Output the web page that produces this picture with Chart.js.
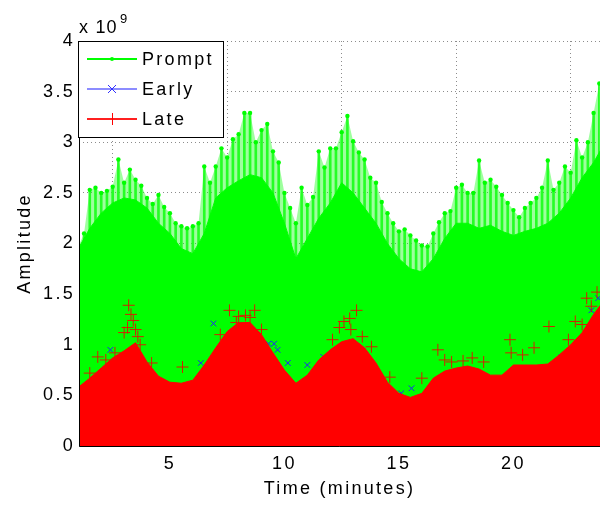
<!DOCTYPE html>
<html>
<head>
<meta charset="utf-8">
<script src="https://cdn.jsdelivr.net/npm/chart.js@4.4.0/dist/chart.umd.min.js"></script>
<style>
  html, body { margin: 0; padding: 0; background: #fff; }
</style>
</head>
<body>
<canvas id="chart" width="600" height="505"></canvas>
<script>
// amplitudes are in units of 1e9 (axis shows "x 10^9")
const bodyMinutes = [1.0, 1.5, 2.0, 2.5, 3.0, 3.5, 4.0, 4.5, 5.0, 5.5, 6.0, 6.5, 7.0, 7.5, 8.0, 8.5,
  9.0, 9.5, 10.0, 10.5, 11.0, 11.5, 12.0, 12.5, 13.0, 13.5, 14.0, 14.5, 15.0, 15.5, 16.0, 16.5,
  17.0, 17.5, 18.0, 18.5, 19.0, 19.5, 20.0, 20.5, 21.0, 21.5, 22.0, 22.5, 23.0, 23.5, 24.0];

// solid part of the Prompt trace
const promptBody = [1.95, 2.15, 2.3, 2.4, 2.45, 2.43, 2.35, 2.2, 2.1, 1.95, 1.9, 2.1, 2.45, 2.55, 2.62, 2.68,
  2.65, 2.5, 2.2, 1.85, 2.05, 2.25, 2.4, 2.6, 2.5, 2.35, 2.2, 2.0, 1.85, 1.75, 1.72, 1.85,
  2.05, 2.2, 2.2, 2.15, 2.18, 2.12, 2.08, 2.12, 2.15, 2.2, 2.3, 2.45, 2.65, 2.8, 3.0];

// upper edge of the Late trace
const lateTop = [0.58, 0.67, 0.77, 0.87, 0.94, 1.02, 0.83, 0.69, 0.63, 0.62, 0.65, 0.8, 0.97, 1.13, 1.22, 1.22,
  1.1, 0.92, 0.75, 0.62, 0.7, 0.85, 0.95, 1.03, 1.06, 0.97, 0.82, 0.63, 0.52, 0.48, 0.52, 0.67,
  0.74, 0.77, 0.79, 0.76, 0.7, 0.7, 0.8, 0.8, 0.8, 0.81, 0.9, 1.0, 1.12, 1.3, 1.45];

// Prompt spikes (peak values)
const spikeMinutes = [1.0, 1.25, 1.5, 1.75, 2.0, 2.25, 2.5, 2.75, 3.0, 3.25, 3.5, 3.75, 4.0, 4.25, 4.5, 4.75,
  5.0, 5.25, 5.5, 5.75, 6.0, 6.25, 6.5, 6.75, 7.0, 7.25, 7.5, 7.75, 8.0, 8.25, 8.5, 8.75,
  9.0, 9.25, 9.5, 9.75, 10.0, 10.25, 10.5, 10.75, 11.0, 11.25, 11.5, 11.75, 12.0, 12.25, 12.5, 12.75,
  13.0, 13.25, 13.5, 13.75, 14.0, 14.25, 14.5, 14.75, 15.0, 15.25, 15.5, 15.75, 16.0, 16.25, 16.5, 16.75,
  17.0, 17.25, 17.5, 17.75, 18.0, 18.25, 18.5, 18.75, 19.0, 19.25, 19.5, 19.75, 20.0, 20.25, 20.5, 20.75,
  21.0, 21.25, 21.5, 21.75, 22.0, 22.25, 22.5, 22.75, 23.0, 23.25, 23.5, 23.75];
const promptPeaks = [1.97, 2.1, 2.53, 2.55, 2.5, 2.52, 2.56, 2.83, 2.6, 2.73, 2.63, 2.57, 2.45, 2.39, 2.48, 2.36,
  2.3, 2.2, 2.17, 2.15, 2.17, 2.2, 2.76, 2.6, 2.76, 2.94, 2.85, 3.03, 3.08, 3.29, 3.29, 3.0,
  3.12, 3.18, 2.91, 2.8, 2.5, 2.35, 2.2, 2.55, 2.38, 2.46, 2.91, 2.75, 2.94, 2.94, 3.1, 3.26,
  3.01, 2.9, 2.83, 2.65, 2.6, 2.41, 2.3, 2.2, 2.12, 2.14, 2.08, 2.03, 1.98, 1.97, 2.1, 2.21,
  2.3, 2.32, 2.55, 2.58, 2.5, 2.5, 2.82, 2.6, 2.63, 2.56, 2.48, 2.4, 2.33, 2.26, 2.35, 2.4,
  2.45, 2.55, 2.82, 2.53, 2.6, 2.76, 2.7, 3.02, 2.85, 3.0, 3.29, 3.58];

// Late markers sticking out above the red mass
const lateMarkMinutes = [1.5, 1.85, 2.2, 2.6, 3.0, 3.15, 3.2, 3.3, 3.4, 3.5, 3.6, 3.7, 4.2, 5.55,
  7.2, 7.6, 7.9, 8.0, 8.3, 8.5, 8.7, 9.0, 12.1, 12.4, 12.6, 12.85, 12.9, 13.15, 13.4, 13.8,
  14.6, 16.0, 16.7, 17.0, 17.3, 17.8, 18.2, 18.7, 19.85, 19.9, 20.4, 20.9, 21.55,
  22.4, 22.7, 23.0, 23.2, 23.4, 23.65];
const lateMarkValues = [0.72, 0.88, 0.85, 0.92, 1.12, 1.17, 1.39, 1.3, 1.24, 1.15, 1.08, 1.0, 0.82, 0.78,
  1.1, 1.34, 1.22, 1.28, 1.29, 1.27, 1.34, 1.15, 1.05, 1.17, 1.23, 1.26, 1.15, 1.34, 1.08, 0.98,
  0.68, 0.67, 0.95, 0.85, 0.83, 0.84, 0.87, 0.83, 1.05, 0.92, 0.9, 0.97, 1.18,
  1.05, 1.23, 1.2, 1.46, 1.38, 1.52];

// Early markers visible at the edge
const earlyMinutes = [1.0, 2.4, 6.35, 6.9, 9.3, 9.55, 9.7, 10.15, 10.3, 11.0, 11.7, 15.1, 15.55, 22.1, 23.4, 23.7];
const earlyValues = [0.55, 0.95, 0.82, 1.21, 1.01, 1.01, 0.95, 0.82, 0.6, 0.8, 0.88, 0.52, 0.57, 0.88, 1.34, 1.46];

const xTicks = [5, 10, 15, 20];
const yTicks = [0, 0.5, 1, 1.5, 2, 2.5, 3, 3.5, 4];

const FONT = "'Liberation Sans', Arial, sans-serif";
const SPACING = '2.3px';

const pts = (xs, ys) => xs.map((x, i) => ({ x: x, y: ys[i] }));

const legendItems = [
  { label: 'Prompt', color: '#00ff00', line: '#00ff00', marker: 'dot' },
  { label: 'Early', color: '#3030ff', line: '#8c8cff', marker: 'x' },
  { label: 'Late', color: '#ff0000', line: '#ff2020', marker: '+' }
];

const matlabDecor = {
  id: 'matlabDecor',
  beforeUpdate(chart) { chart.ctx.letterSpacing = SPACING; },
  beforeDraw(chart) { chart.ctx.letterSpacing = SPACING; },
  afterDatasetsDraw(chart) {
    const ctx = chart.ctx;
    const a = chart.chartArea;
    ctx.save();
    ctx.setLineDash([]);
    // axes on top of data
    ctx.strokeStyle = '#000';
    ctx.lineWidth = 1;
    ctx.beginPath();
    ctx.moveTo(a.left + 0.5, a.top);
    ctx.lineTo(a.left + 0.5, a.bottom + 0.5);
    ctx.lineTo(a.right, a.bottom + 0.5);
    ctx.stroke();

    // exponent label
    ctx.fillStyle = '#000';
    ctx.textBaseline = 'alphabetic';
    ctx.textAlign = 'left';
    ctx.letterSpacing = '1.2px';
    ctx.font = '18px ' + FONT;
    ctx.fillText('x 10', 79, 33);
    ctx.font = '13px ' + FONT;
    ctx.fillText('9', 120, 23);
    ctx.letterSpacing = SPACING;

    // legend box
    const bx = 78.5, by = 41.5, bw = 145, bh = 96;
    ctx.fillStyle = '#fff';
    ctx.fillRect(bx, by, bw, bh);
    ctx.strokeStyle = '#000';
    ctx.strokeRect(bx, by, bw, bh);
    legendItems.forEach((it, i) => {
      const y = 59 + i * 30;
      ctx.strokeStyle = it.line;
      ctx.lineWidth = 2;
      ctx.beginPath();
      ctx.moveTo(87, y);
      ctx.lineTo(137, y);
      ctx.stroke();
      ctx.lineWidth = 1;
      ctx.strokeStyle = it.color;
      ctx.fillStyle = it.color;
      ctx.beginPath();
      if (it.marker === 'dot') {
        ctx.arc(112, y, 2, 0, Math.PI * 2);
        ctx.fill();
      } else if (it.marker === 'x') {
        ctx.moveTo(108, y - 4); ctx.lineTo(116, y + 4);
        ctx.moveTo(116, y - 4); ctx.lineTo(108, y + 4);
        ctx.stroke();
      } else {
        ctx.moveTo(112.5, y - 6); ctx.lineTo(112.5, y + 6);
        ctx.stroke();
      }
      ctx.fillStyle = '#000';
      ctx.font = '18px ' + FONT;
      ctx.textBaseline = 'middle';
      ctx.fillText(it.label, 142, y + 1);
    });
    ctx.restore();
  }
};

new Chart(document.getElementById('chart'), {
  type: 'line',
  data: {
    datasets: [
      {
        label: 'Late',
        data: pts(lateMarkMinutes, lateMarkValues),
        showLine: false,
        pointStyle: 'cross',
        pointRadius: 6,
        pointBorderWidth: 1,
        pointBorderColor: '#d42000',
        order: 0
      },
      {
        label: 'Late fill',
        data: pts(bodyMinutes, lateTop),
        borderColor: '#ff0000',
        backgroundColor: '#ff0000',
        borderWidth: 1,
        fill: 'origin',
        pointRadius: 0,
        tension: 0,
        order: 1
      },
      {
        label: 'Early',
        data: pts(earlyMinutes, earlyValues),
        showLine: false,
        pointStyle: 'crossRot',
        pointRadius: 4,
        pointBorderWidth: 1,
        pointBorderColor: '#2020ff',
        order: 2
      },
      {
        label: 'Prompt',
        data: pts(spikeMinutes, promptPeaks),
        showLine: true,
        borderWidth: 0,
        borderColor: 'rgba(0,0,0,0)',
        backgroundColor: 'rgba(0,255,0,0.38)',
        fill: '+1',
        tension: 0,
        pointStyle: 'circle',
        pointRadius: 2.2,
        pointBorderWidth: 0,
        pointBackgroundColor: '#00ff00',
        order: 3
      },
      {
        label: 'Prompt body',
        data: pts(bodyMinutes, promptBody),
        borderColor: '#00ff00',
        backgroundColor: '#00ff00',
        borderWidth: 1,
        fill: 'origin',
        pointRadius: 0,
        tension: 0,
        order: 4
      },
      {
        type: 'bar',
        label: 'Prompt stems',
        data: pts(spikeMinutes, promptPeaks),
        backgroundColor: '#3cff3c',
        barThickness: 2,
        order: 5
      }
    ]
  },
  options: {
    responsive: false,
    animation: false,
    events: [],
    devicePixelRatio: 1,
    layout: { autoPadding: false, padding: { top: 41, right: 0, left: 0, bottom: 0 } },
    plugins: { legend: { display: false }, tooltip: { enabled: false }, title: { display: false } },
    scales: {
      x: {
        type: 'linear',
        min: 1.03,
        max: 23.78,
        offset: false,
        afterBuildTicks: axis => { axis.ticks = xTicks.map(v => ({ value: v })); },
        afterFit: axis => { axis.height = 59; axis.paddingLeft = 0; axis.paddingRight = 0; },
        grid: { color: 'rgba(0,0,0,0.45)', drawTicks: false },
        border: { display: false, dash: [1, 3] },
        ticks: { color: '#000', padding: 7, maxRotation: 0, font: { family: FONT, size: 18 } },
        title: {
          display: true, text: 'Time (minutes)', color: '#000',
          font: { family: FONT, size: 18 }, padding: { top: 0, bottom: 5 }
        }
      },
      y: {
        min: 0,
        max: 4,
        afterBuildTicks: axis => { axis.ticks = yTicks.map(v => ({ value: v })); },
        afterFit: axis => { axis.width = 79; axis.paddingTop = 0; axis.paddingBottom = 0; },
        grid: { color: 'rgba(0,0,0,0.45)', drawTicks: false },
        border: { display: false, dash: [1, 3] },
        ticks: {
          color: '#000', padding: 4, font: { family: FONT, size: 18 },
          callback: v => String(v)
        },
        title: {
          display: true, text: 'Amplitude', color: '#000',
          font: { family: FONT, size: 18 }, padding: { top: 14, bottom: 0 }
        }
      }
    }
  },
  plugins: [matlabDecor]
});
</script>
</body>
</html>
